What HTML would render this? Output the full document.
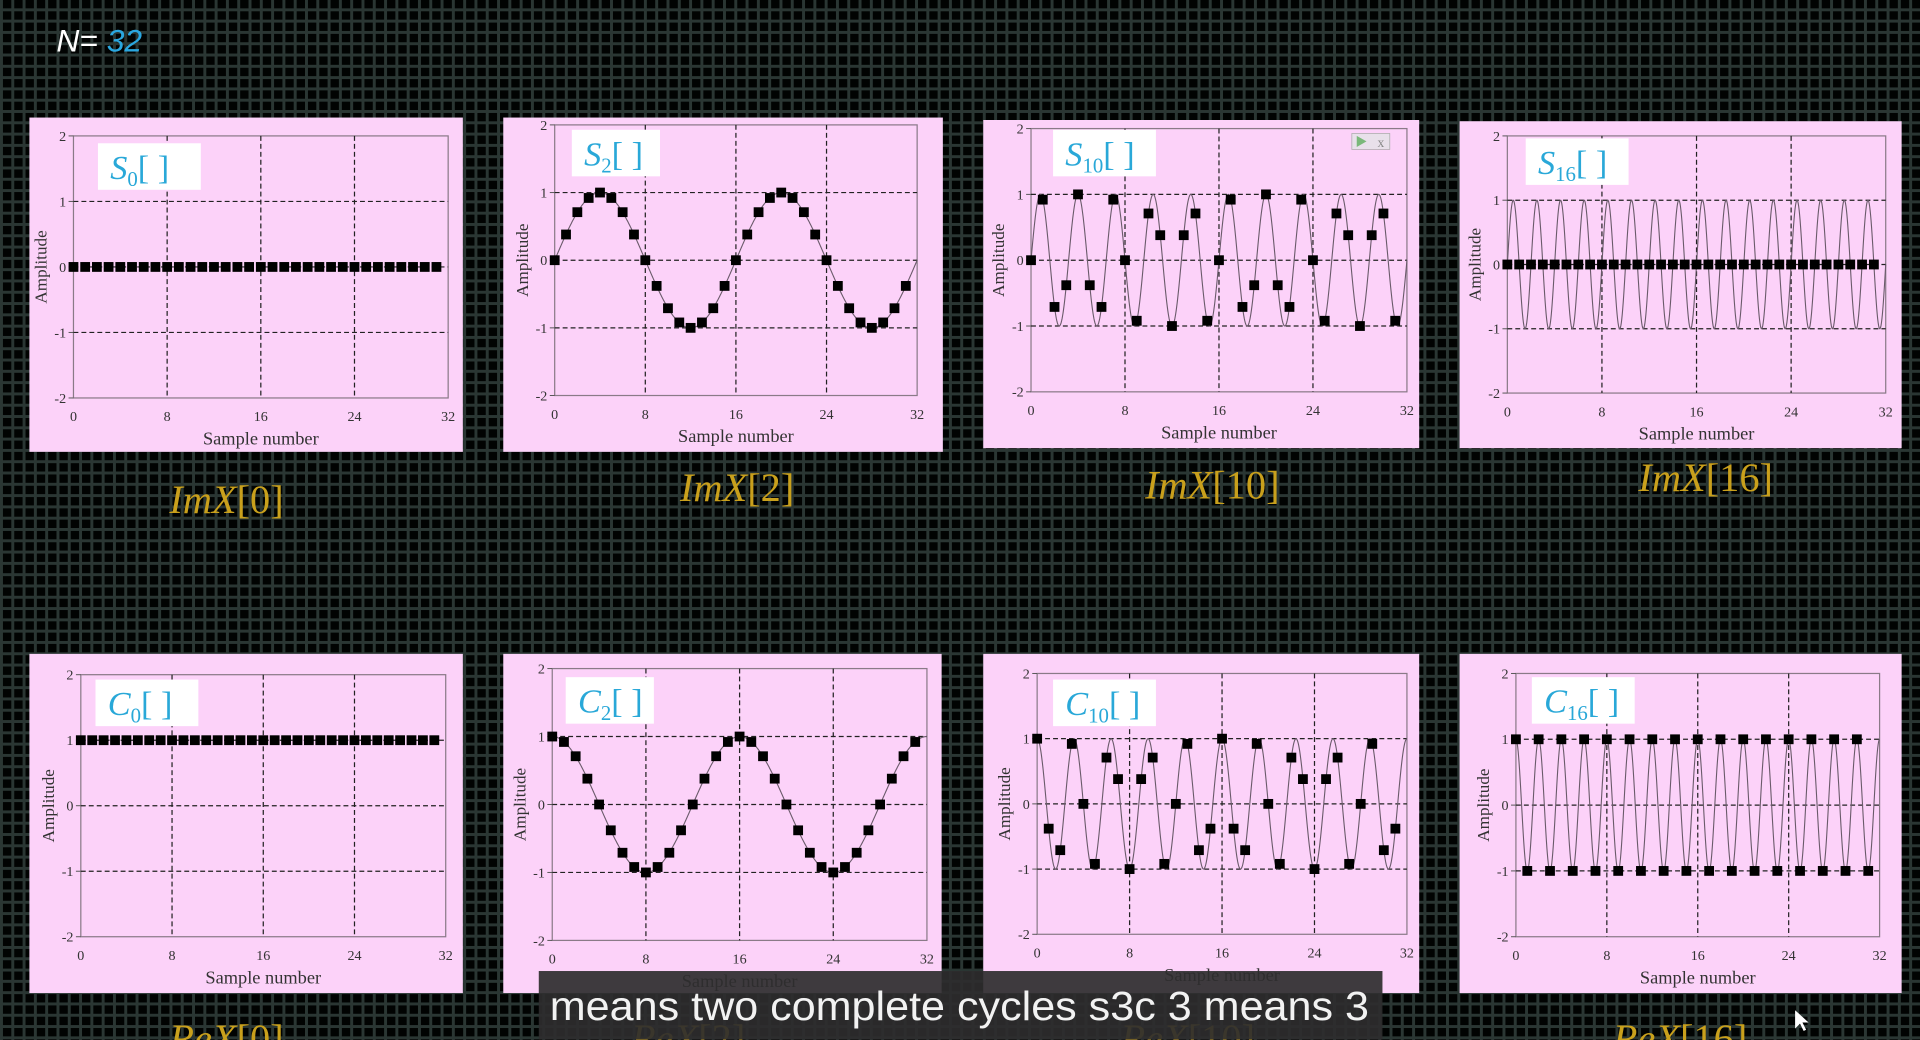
<!DOCTYPE html>
<html><head><meta charset="utf-8"><style>
html,body{margin:0;padding:0;width:1920px;height:1040px;overflow:hidden;background:#000;}
#bg{position:absolute;left:0;top:0;width:1920px;height:1040px;
background-color:#010302;
background-image:linear-gradient(90deg,#2a3633 0,#2a3633 3px,transparent 3px),linear-gradient(0deg,#2a3633 0,#2a3633 3px,transparent 3px);
background-size:11.3px 11.3px;}
svg{position:absolute;left:0;top:0;}
text{font-family:"Liberation Serif",serif;}
</style></head><body>
<div id="bg"></div>
<svg id="chart" width="1920" height="1040" viewBox="0 0 1920 1040">
<g id="root" transform="scale(1.22449)"></g>
</svg>
<script>
// ---- data ----
const sampleIndex = [0,1,2,3,4,5,6,7,8,9,10,11,12,13,14,15,16,17,18,19,20,21,22,23,24,25,26,27,28,29,30,31];
const s0Values = [0,0,0,0,0,0,0,0,0,0,0,0,0,0,0,0,0,0,0,0,0,0,0,0,0,0,0,0,0,0,0,0];
const s2Values = [0,.38,.71,.92,1,.92,.71,.38,0,-.38,-.71,-.92,-1,-.92,-.71,-.38,0,.38,.71,.92,1,.92,.71,.38,0,-.38,-.71,-.92,-1,-.92,-.71,-.38];
const s10Values = [0,.92,-.71,-.38,1,-.38,-.71,.92,0,-.92,.71,.38,-1,.38,.71,-.92,0,.92,-.71,-.38,1,-.38,-.71,.92,0,-.92,.71,.38,-1,.38,.71,-.92];
const s16Values = [0,0,0,0,0,0,0,0,0,0,0,0,0,0,0,0,0,0,0,0,0,0,0,0,0,0,0,0,0,0,0,0];
const c0Values = [1,1,1,1,1,1,1,1,1,1,1,1,1,1,1,1,1,1,1,1,1,1,1,1,1,1,1,1,1,1,1,1];
const c2Values = [1,.92,.71,.38,0,-.38,-.71,-.92,-1,-.92,-.71,-.38,0,.38,.71,.92,1,.92,.71,.38,0,-.38,-.71,-.92,-1,-.92,-.71,-.38,0,.38,.71,.92];
const c10Values = [1,-.38,-.71,.92,0,-.92,.71,.38,-1,.38,.71,-.92,0,.92,-.71,-.38,1,-.38,-.71,.92,0,-.92,.71,.38,-1,.38,.71,-.92,0,.92,-.71,-.38];
const c16Values = [1,-1,1,-1,1,-1,1,-1,1,-1,1,-1,1,-1,1,-1,1,-1,1,-1,1,-1,1,-1,1,-1,1,-1,1,-1,1,-1];
const frequencies = [0,2,10,16];
const xTicks = [0,8,16,24,32];
const yTicks = [2,1,0,-1,-2];
const panelTitles = ["S","S","S","S","C","C","C","C"];
const bottomLabels = ["ImX[0]","ImX[2]","ImX[10]","ImX[16]","ReX[0]","ReX[2]","ReX[10]","ReX[16]"];

const NS="http://www.w3.org/2000/svg";
const root=document.getElementById('root');
function mk(tag,attrs,parent,txt){const e=document.createElementNS(NS,tag);for(const k in attrs)e.setAttribute(k,attrs[k]);if(txt!==undefined)e.textContent=txt;(parent||root).appendChild(e);return e;}

const panels=[
 {box:[24,96,378,369],x0:60,x1:366,y2:111,ym2:325,lab:[80,117],bl:[185,408]},
 {box:[411,96,770,369],x0:453,x1:749,y2:102,ym2:323,lab:[467,106],bl:[602,398]},
 {box:[803,98,1159,366],x0:842,x1:1149,y2:105,ym2:320,lab:[860,106],bl:[990,396]},
 {box:[1192,99,1553,366],x0:1231,x1:1540,y2:111,ym2:321,lab:[1246,113],bl:[1393,390]},
 {box:[24,534,378,811],x0:66,x1:364,y2:551,ym2:765,lab:[78,555],bl:[185,848]},
 {box:[411,534,769,811],x0:451,x1:757,y2:546,ym2:768,lab:[462,553],bl:[562,848]},
 {box:[803,534,1159,811],x0:847,x1:1149,y2:550,ym2:763,lab:[860,555],bl:[970,848]},
 {box:[1192,534,1553,811],x0:1238,x1:1535,y2:550,ym2:765,lab:[1251,553],bl:[1372,848]}
];
const series=[s0Values,s2Values,s10Values,s16Values,c0Values,c2Values,c10Values,c16Values];

const nt=mk('text',{x:46,y:42,'font-size':26,'font-style':'italic'});


nt.style.fontFamily='"Liberation Sans",sans-serif';
mk('tspan',{fill:'#fff'},nt,'N=');
mk('tspan',{fill:'#2aa7e0'},nt,' 32');

panels.forEach((p,i)=>{
  const k=frequencies[i%4];
  const vals=series[i];
  const isS=i<4;
  const g=mk('g',{});
  
  
  const [bx0,by0,bx1,by1]=p.box;
  mk('rect',{x:bx0,y:by0,width:bx1-bx0,height:by1-by0,fill:'#fcd2f9'},g);
  const xs=v=>p.x0+(v/32)*(p.x1-p.x0);
  const ys=v=>p.y2+((2-v)/4)*(p.ym2-p.y2);
  const fr=mk('rect',{x:p.x0,y:p.y2,width:p.x1-p.x0,height:p.ym2-p.y2,fill:'none',stroke:'#8a7a88','stroke-width':1},g);
  
  
  xTicks.forEach(t=>{
    if(t>0&&t<32){const l=mk('line',{x1:xs(t),x2:xs(t),y1:p.y2,y2:p.ym2,stroke:'#222','stroke-width':1,'stroke-dasharray':'4 2.5'},g);
      
      }
    const tl=mk('text',{x:xs(t),y:p.ym2+19,'font-size':11.5,'text-anchor':'middle',fill:'#333'},g,String(t));
    
    
  });
  yTicks.forEach(t=>{
    if(t<2&&t>-2){const l=mk('line',{x1:p.x0,x2:p.x1,y1:ys(t),y2:ys(t),stroke:'#222','stroke-width':1,'stroke-dasharray':'4 2.5'},g);
      
      }
    mk('line',{x1:p.x0-4,x2:p.x0,y1:ys(t),y2:ys(t),stroke:'#555','stroke-width':0.8},g);
    const tl=mk('text',{x:p.x0-6,y:ys(t)+4,'font-size':11.5,'text-anchor':'end',fill:'#333'},g,String(t));
    
    
  });
  const xt=mk('text',{x:(p.x0+p.x1)/2,y:p.ym2+38,'font-size':15,'text-anchor':'middle',fill:'#333'},g,'Sample number');
  
  
  const ay=(p.y2+p.ym2)/2, ax=p.x0-22;
  const yt=mk('text',{x:ax,y:ay,'font-size':14,'text-anchor':'middle',fill:'#333',transform:`rotate(-90 ${ax} ${ay})`},g,'Amplitude');
  
  
  if(k>0){
    let d='';const N=800;
    for(let j=0;j<=N;j++){const t=32*j/N;const v=isS?Math.sin(2*Math.PI*k*t/32):Math.cos(2*Math.PI*k*t/32);d+=(j?'L':'M')+xs(t).toFixed(2)+' '+ys(v).toFixed(2);}
    const c=mk('path',{d:d,fill:'none',stroke:'#6a5a6a','stroke-width':0.9},g);
    
    
  }
  sampleIndex.forEach((n,j)=>{
    const m=mk('rect',{x:xs(n)-4,y:ys(vals[j])-4,width:8,height:8,fill:'#000'},g);
    
    
  });
  const [lx,ly]=p.lab;
  const tb=mk('rect',{x:lx,y:ly,width:i===1||i===5?72:84,height:38,fill:'#fff'},g);
  
  
  const tt=mk('text',{x:lx+10,y:ly+29,'font-size':28,fill:'#29a8d8','font-style':'italic'},g);
  
  
  mk('tspan',{},tt,panelTitles[i]);
  mk('tspan',{'font-size':17,'font-style':'normal',dy:6},tt,String(k));
  mk('tspan',{'font-style':'normal',dy:-6},tt,'[ ]');
  const bl=mk('text',{x:p.bl[0],y:p.bl[1]+11,'font-size':33,'text-anchor':'middle',fill:'#c9a01c'},g);
  
  
  const lbl=bottomLabels[i];
  mk('tspan',{'font-style':'italic'},bl,lbl.slice(0,3));
  mk('tspan',{},bl,lbl.slice(3));
});
const w=mk('g',{});


mk('rect',{x:1104,y:109,width:31,height:13,fill:'#e8e0ea',stroke:'#aaa','stroke-width':0.6},w);
mk('path',{d:'M1108 111 L1116 115.5 L1108 120Z',fill:'#7ab87a'},w);
mk('text',{x:1125,y:120,'font-size':11,fill:'#888'},w,'x');
const sb=mk('rect',{x:440,y:793,width:689,height:56,fill:'#2e2c2e','fill-opacity':0.92});


const st=mk('text',{x:449,y:833,'font-size':33,fill:'#f2f2f2',textLength:669,lengthAdjust:'spacingAndGlyphs'},root,'means two complete cycles s3c 3 means 3');
st.style.fontFamily='"Liberation Sans",sans-serif';


const cu=mk('path',{d:'M1466 825 L1466 840 L1470 836 L1473 842 L1475 841 L1472 835 L1477 835Z',fill:'#fff'});


</script>
</body></html>
